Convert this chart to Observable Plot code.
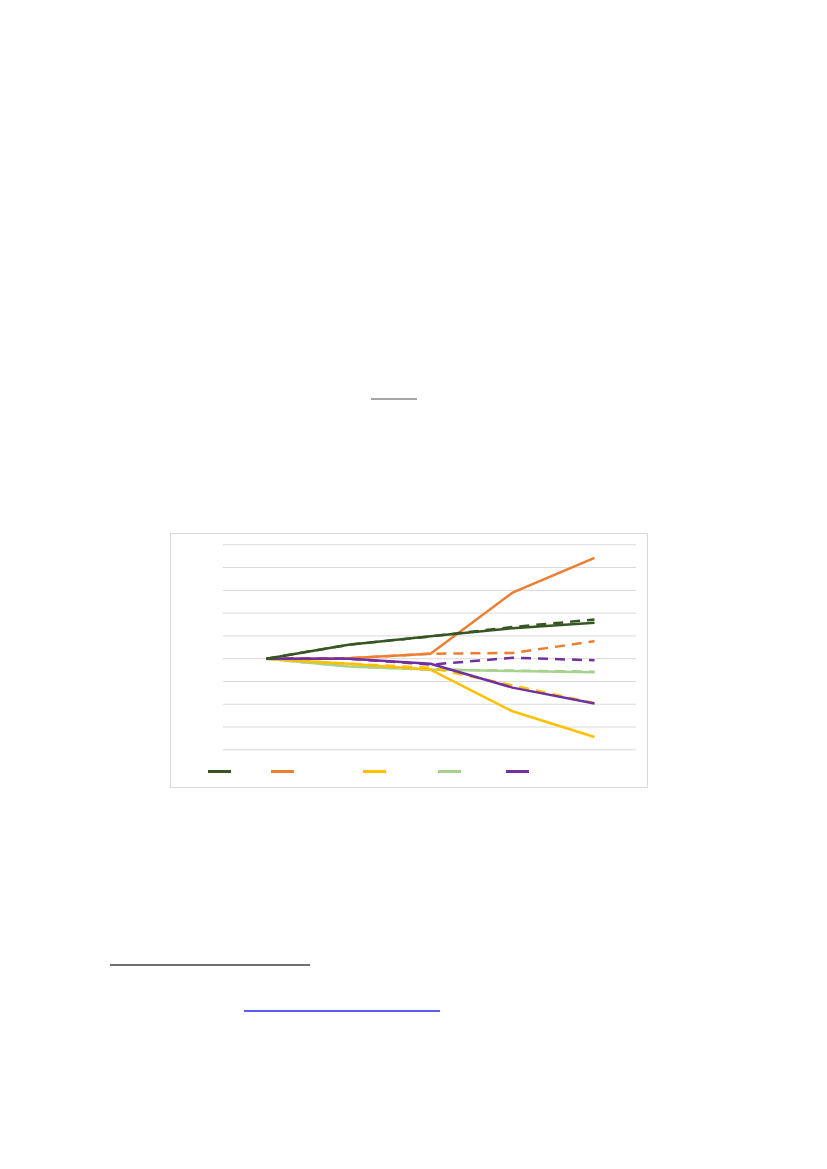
<!DOCTYPE html>
<html>
<head>
<meta charset="utf-8">
<script src="https://cdn.jsdelivr.net/npm/d3@7"></script>
<script src="https://cdn.jsdelivr.net/npm/@observablehq/plot@0.6"></script>
<style>
  html, body { margin: 0; padding: 0; background: #ffffff; }
  body { width: 827px; height: 1169px; position: relative; overflow: hidden; font-family: "Liberation Sans", Arial, sans-serif; }
  #frame { position: absolute; left: 170px; top: 533px; width: 476px; height: 253px; border: 1px solid #d9d9d9; background: #fff; }
  #chart { position: absolute; left: -1px; top: -1px; width: 478px; height: 254px; }
  #chart svg { display: block; max-width: none !important; }
  .sw { position: absolute; height: 3px; width: 23px; top: 236px; }
  .deco { position: absolute; }
</style>
</head>
<body>
<div class="deco" style="left:371px;top:398px;width:46px;height:2px;background:#a6a6a6;"></div>
<div id="frame"><div id="chart"></div></div>
<div class="deco" style="left:110px;top:964px;width:200px;height:1.5px;background:#6f6f6f;"></div>
<div class="deco" style="left:244px;top:1010px;width:196px;height:1.5px;background:#5a5aff;"></div>
<script>
// categories (5 periods, labels not visible in the reference)
const categories = ["1", "2", "3", "4", "5"];

// series values (grid units, 0 = baseline)
const darkGreenSolid   = [0, 0.61, 0.98, 1.34, 1.58];
const darkGreenDashed  = [0, 0.61, 0.98, 1.39, 1.72];
const orangeSolid      = [0, 0.02, 0.22, 2.90, 4.43];
const orangeDashed     = [0, 0.02, 0.22, 0.25, 0.77];
const yellowSolid      = [0, -0.22, -0.48, -2.31, -3.44];
const yellowDashed     = [0, -0.22, -0.40, -1.17, -1.95];
const lightGreenSolid  = [0, -0.34, -0.48, -0.54, -0.60];
const lightGreenDashed = [0, -0.34, -0.48, -0.52, -0.57];
const purpleSolid      = [0, 0, -0.22, -1.27, -1.97];
const purpleDashed     = [0, 0, -0.26, 0.04, -0.07];

// gridline tick values
const yTicks = [-4, -3, -2, -1, 0, 1, 2, 3, 4, 5];

const seriesDefs = [
  {name: "lightGreenDashed", values: lightGreenDashed, color: "#A9D18E", dashed: true},
  {name: "lightGreenSolid", values: lightGreenSolid, color: "#A9D18E", dashed: false},
  {name: "yellowDashed", values: yellowDashed, color: "#FFC000", dashed: true},
  {name: "yellowSolid", values: yellowSolid, color: "#FFC000", dashed: false},
  {name: "orangeDashed", values: orangeDashed, color: "#ED7D31", dashed: true},
  {name: "orangeSolid", values: orangeSolid, color: "#ED7D31", dashed: false},
  {name: "purpleSolid", values: purpleSolid, color: "#7030A0", dashed: false},
  {name: "purpleDashed", values: purpleDashed, color: "#7030A0", dashed: true},
  {name: "darkGreenSolid", values: darkGreenSolid, color: "#375623", dashed: false},
  {name: "darkGreenDashed", values: darkGreenDashed, color: "#375623", dashed: true}
];

const lineMarks = seriesDefs.map(s => Plot.line(
  s.values.map((v, i) => ({x: categories[i], y: v})),
  {x: "x", y: "y", stroke: s.color, strokeWidth: 2.5,
   strokeDasharray: s.dashed ? "10,7" : undefined,
   strokeLinejoin: "round", strokeLinecap: "butt"}
));

const chart = Plot.plot({
  width: 478,
  height: 254,
  marginLeft: 53,
  marginRight: 12,
  marginTop: 11.3,
  marginBottom: 37.7,
  x: {type: "point", domain: categories, padding: 0.5, axis: null},
  y: {domain: [-4, 5], axis: null},
  style: {background: "transparent"},
  marks: [
    Plot.ruleY(yTicks, {stroke: "#d9d9d9", strokeWidth: 1, strokeOpacity: 1}),
    ...lineMarks
  ]
});
document.getElementById("chart").appendChild(chart);

// legend swatches (solid series only, labels not visible)
const legendColors = ["#375623", "#ED7D31", "#FFC000", "#A9D18E", "#7030A0"];
const legendLeft = [37, 100, 192, 267, 335];
const frame = document.getElementById("frame");
legendColors.forEach((c, i) => {
  const d = document.createElement("div");
  d.className = "sw";
  d.style.left = legendLeft[i] + "px";
  d.style.background = c;
  frame.appendChild(d);
});
</script>
</body>
</html>
